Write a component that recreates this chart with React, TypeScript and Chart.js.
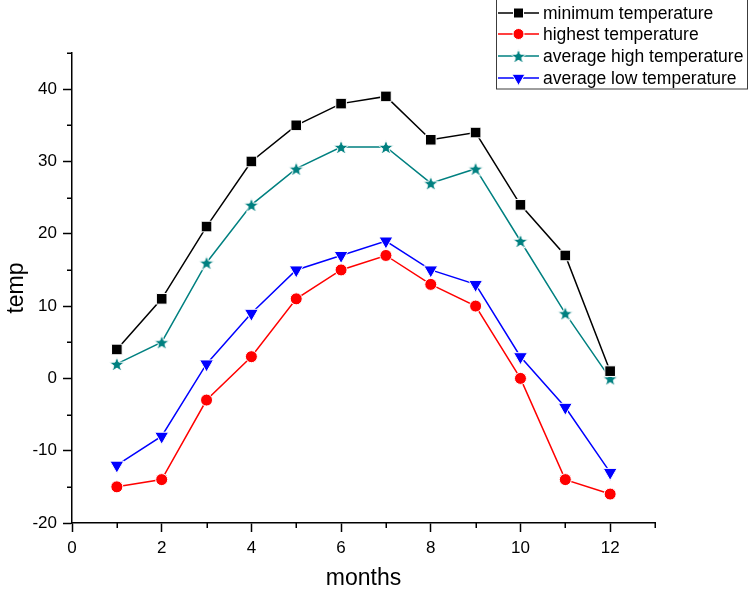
import React, { useEffect, useRef } from 'react';
import { Chart, registerables } from 'chart.js';

Chart.register(...registerables);

// ---- data ----
const months = [1, 2, 3, 4, 5, 6, 7, 8, 9, 10, 11, 12];
const minimumTemperature = [4, 11, 21, 30, 35, 38, 39, 33, 34, 24, 17, 1];
const highestTemperature = [-15, -14, -3, 3, 11, 15, 17, 13, 10, 0, -14, -16];
const averageHighTemperature = [2, 5, 16, 24, 29, 32, 32, 27, 29, 19, 9, 0];
const averageLowTemperature = [-12, -8, 2, 9, 15, 17, 19, 15, 13, 3, -4, -13];
const seriesLabels = [
  'minimum temperature',
  'highest temperature',
  'average high temperature',
  'average low temperature',
];
const xTickLabels = [0, 2, 4, 6, 8, 10, 12];
const yTickLabels = [-20, -10, 0, 10, 20, 30, 40];

const FONT = '"Liberation Sans", Arial, sans-serif';
const COLORS = ['#000000', '#ff0000', '#008080', '#0000ff'];
const KINDS = ['rect', 'circle', 'star', 'tri'];

function makeStar(color: string, outer: number, inner: number, border: number) {
  const size = Math.ceil(2 * (outer + border)) + 2;
  const c = document.createElement('canvas');
  c.width = size;
  c.height = size;
  const g = c.getContext('2d')!;
  g.beginPath();
  for (let i = 0; i < 10; i++) {
    const r = i % 2 === 0 ? outer : inner;
    const a = -Math.PI / 2 + (i * Math.PI) / 5;
    const px = size / 2 + r * Math.cos(a);
    const py = size / 2 + 0.8 + r * Math.sin(a);
    if (i === 0) g.moveTo(px, py);
    else g.lineTo(px, py);
  }
  g.closePath();
  g.fillStyle = color;
  g.fill();
  g.strokeStyle = '#ffffff';
  g.lineWidth = border;
  g.stroke();
  return c;
}

function drawMarker(ctx: CanvasRenderingContext2D, kind: string, color: string, x: number, y: number, star: HTMLCanvasElement) {
  ctx.save();
  ctx.fillStyle = color;
  ctx.strokeStyle = '#ffffff';
  ctx.lineWidth = 1;
  ctx.beginPath();
  if (kind === 'rect') {
    ctx.rect(x - 5, y - 5, 10, 10);
  } else if (kind === 'circle') {
    ctx.arc(x, y, 5.5, 0, Math.PI * 2);
  } else if (kind === 'tri') {
    const r = 7.5;
    ctx.moveTo(x - r * 0.866, y - r * 0.5);
    ctx.lineTo(x + r * 0.866, y - r * 0.5);
    ctx.lineTo(x, y + r);
    ctx.closePath();
  }
  if (kind === 'star') {
    ctx.drawImage(star, x - star.width / 2, y - star.height / 2);
  } else {
    ctx.fill();
    ctx.stroke();
  }
  ctx.restore();
}

export default function App() {
  const ref = useRef<HTMLCanvasElement | null>(null);

  useEffect(() => {
    if (!ref.current) return;
    const starImg = makeStar(COLORS[2], 8, 3.3, 1);
    const seriesValues = [minimumTemperature, highestTemperature, averageHighTemperature, averageLowTemperature];

    const xMajor = (v: number) => xTickLabels.includes(v);
    const yMajor = (v: number) => yTickLabels.includes(v);

    const minorTicks = {
      id: 'minorTicks',
      afterDraw(chart: any) {
        const { ctx, chartArea } = chart;
        const xs = chart.scales.x;
        const ys = chart.scales.y;
        ctx.save();
        ctx.strokeStyle = '#000';
        ctx.lineWidth = 1.5;
        ctx.beginPath();
        for (const t of xs.ticks) {
          if (!xMajor(t.value)) {
            const px = Math.round(xs.getPixelForValue(t.value)) + 0.25;
            ctx.moveTo(px, chartArea.bottom);
            ctx.lineTo(px, chartArea.bottom + 5);
          }
        }
        for (const t of ys.ticks) {
          if (!yMajor(t.value)) {
            const py = Math.round(ys.getPixelForValue(t.value)) + 0.25;
            ctx.moveTo(chartArea.left, py);
            ctx.lineTo(chartArea.left - 5, py);
          }
        }
        ctx.stroke();
        ctx.restore();
      },
    };

    const legendPlugin = {
      id: 'customLegend',
      afterDraw(chart: any) {
        const ctx: CanvasRenderingContext2D = chart.ctx;
        ctx.save();
        ctx.strokeStyle = '#3c3c3c';
        ctx.lineWidth = 1;
        ctx.strokeRect(496.5, -0.5, 251, 89.5);
        const rows = [13, 34, 56, 78];
        ctx.font = `17.5px ${FONT}`;
        ctx.textBaseline = 'middle';
        ctx.textAlign = 'left';
        seriesLabels.forEach((label, i) => {
          const y = rows[i];
          ctx.strokeStyle = COLORS[i];
          ctx.lineWidth = 1.5;
          ctx.beginPath();
          ctx.moveTo(498, y);
          ctx.lineTo(539, y);
          ctx.stroke();
          drawMarker(ctx, KINDS[i], COLORS[i], 518.5, y, starImg);
          ctx.fillStyle = '#000';
          ctx.fillText(label, 543, y + 1);
        });
        ctx.restore();
      },
    };

    const pointStyles: any[] = ['rect', 'circle', starImg, 'triangle'];
    const pointRadii = [7.5, 6, 8, 8];
    const pointRotations = [0, 0, 0, 180];

    const chart = new Chart(ref.current, {
      type: 'line',
      data: {
        datasets: seriesLabels.map((label, i) => ({
          label,
          data: months.map((m, j) => ({ x: m, y: seriesValues[i][j] })),
          borderColor: COLORS[i],
          backgroundColor: COLORS[i],
          borderWidth: 1.5,
          pointStyle: pointStyles[i],
          pointRadius: pointRadii[i],
          pointRotation: pointRotations[i],
          pointBackgroundColor: COLORS[i],
          pointBorderColor: '#ffffff',
          pointBorderWidth: 1,
          tension: 0,
        })),
      },
      options: {
        animation: false,
        responsive: false,
        devicePixelRatio: 1,
        layout: { padding: { top: 53, right: 93, left: 0, bottom: 0 } },
        plugins: {
          legend: { display: false },
          tooltip: { enabled: false },
        },
        scales: {
          x: {
            type: 'linear',
            min: 0,
            max: 13,
            afterFit: (s: any) => {
              s.height = 69;
            },
            ticks: {
              stepSize: 1,
              autoSkip: false,
              maxRotation: 0,
              padding: 6,
              color: '#000',
              font: { family: FONT, size: 17 },
              callback: (v: any) => (xMajor(Number(v)) ? String(v) : ''),
            },
            grid: {
              drawOnChartArea: false,
              tickLength: 9,
              tickWidth: 1.5,
              tickColor: (c: any) => (c.tick && xMajor(c.tick.value) ? '#000' : 'rgba(0,0,0,0)'),
            },
            border: { color: '#000', width: 1.5 },
            title: {
              display: true,
              text: 'months',
              color: '#000',
              font: { family: FONT, size: 23 },
              padding: { top: 0, bottom: 0 },
            },
          },
          y: {
            type: 'linear',
            min: -20,
            max: 45,
            afterFit: (s: any) => {
              s.width = 72;
            },
            ticks: {
              stepSize: 5,
              autoSkip: false,
              padding: 6,
              color: '#000',
              font: { family: FONT, size: 17 },
              callback: (v: any) => (yMajor(Number(v)) ? String(v) : ''),
            },
            grid: {
              drawOnChartArea: false,
              tickLength: 9,
              tickWidth: 1.5,
              tickColor: (c: any) => (c.tick && yMajor(c.tick.value) ? '#000' : 'rgba(0,0,0,0)'),
            },
            border: { color: '#000', width: 1.5 },
            title: {
              display: true,
              text: 'temp',
              color: '#000',
              font: { family: FONT, size: 23 },
              padding: { top: 3, bottom: 0 },
            },
          },
        },
      } as any,
      plugins: [minorTicks, legendPlugin],
    });

    return () => chart.destroy();
  }, []);

  return (
    <canvas
      ref={ref}
      width={748}
      height={592}
      style={{ position: 'fixed', left: 0, top: 0, display: 'block', background: '#fff' }}
    />
  );
}
